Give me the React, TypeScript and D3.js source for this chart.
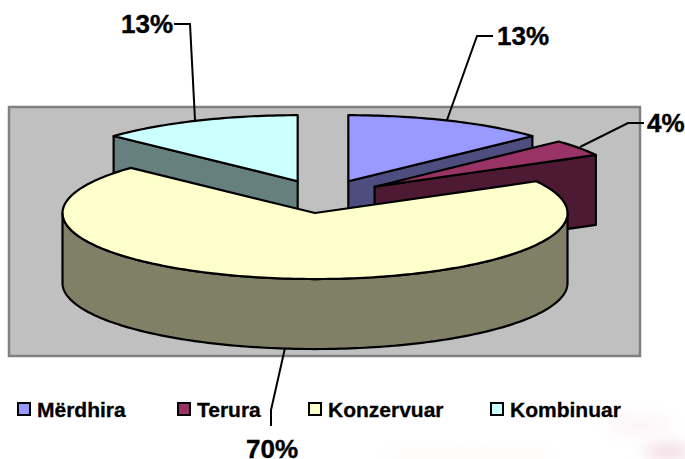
import React from "react";
import * as d3 from "d3";

const categories = ["Mërdhira", "Terura", "Konzervuar", "Kombinuar"];
const values = [13, 4, 70, 13];
const percentLabels = ["13%", "4%", "70%", "13%"];
const topColors = ["#9999FF", "#993366", "#FFFFCC", "#CCFFFF"];
const sideColors = ["#4D4D80", "#4D1933", "#808066", "#668080"];
const legendX = [17, 177, 308, 490];
const labelPos: [number, number][] = [[497, 45], [647, 132], [246, 458], [121, 33]];
const leaders: [number, number][][] = [
  [[447, 120], [477, 36], [493, 36]],
  [[580, 147], [628, 123], [644, 123]],
  [[285, 348], [271, 410], [271, 426]],
  [[195, 120], [190, 24], [174, 24]],
];

const W = 685, H = 459;
const cx = 323, cy = 196.5, rx = 252.5, ry = 66, depth = 70, explode = 0.2525;
const drawOrder = [0, 3, 1, 2];
const FONT = "'Liberation Sans', Arial, sans-serif";

const pie = d3.pie<number>().sort(null).value((d) => d);
const arcs = pie(values);
const line = d3.line<[number, number]>();

function pt(s: d3.PieArcDatum<number>, a: number, r: number, dz = 0): [number, number] {
  const m = (s.startAngle + s.endAngle) / 2;
  return [
    cx + rx * (explode * Math.sin(m) + r * Math.sin(a)),
    cy - ry * (explode * Math.cos(m) + r * Math.cos(a)) + dz,
  ];
}
function rim(s: d3.PieArcDatum<number>, a0: number, a1: number, dz = 0) {
  const n = Math.max(2, Math.ceil((a1 - a0) / 0.02));
  return d3.range(n + 1).map((i) => pt(s, a0 + ((a1 - a0) * i) / n, 1, dz));
}

function Slice({ i }: { i: number }) {
  const s = arcs[i];
  const apex = pt(s, 0, 0);
  const apexLow = pt(s, 0, 0, depth);
  const lo = Math.max(s.startAngle, Math.PI / 2);
  const hi = Math.min(s.endAngle, (3 * Math.PI) / 2);
  const stroke = { stroke: "#000", strokeWidth: 2.2, strokeLinejoin: "round" as const };
  const radial = (a: number) => {
    const e = pt(s, a, 1), eLow = pt(s, a, 1, depth);
    return <path d={line([apex, e, eLow, apexLow])! + "Z"} fill={sideColors[i]} {...stroke} />;
  };
  return (
    <g>
      {s.endAngle < Math.PI && radial(s.endAngle)}
      {s.startAngle > Math.PI && radial(s.startAngle)}
      {hi > lo && (
        <path
          d={line([...rim(s, lo, hi), ...rim(s, lo, hi, depth).reverse()])! + "Z"}
          fill={sideColors[i]}
          {...stroke}
        />
      )}
      <path d={line([apex, ...rim(s, s.startAngle, s.endAngle)])! + "Z"} fill={topColors[i]} {...stroke} />
    </g>
  );
}

export default function App() {
  return (
    <svg
      width={W}
      height={H}
      viewBox={`0 0 ${W} ${H}`}
      style={{ position: "absolute", left: 0, top: 0, display: "block", background: "#fff" }}
    >
      <defs>
        <filter id="soft" x="-30%" y="-100%" width="160%" height="300%">
          <feGaussianBlur stdDeviation="8" />
        </filter>
      </defs>
      <g filter="url(#soft)">
        <ellipse cx={668} cy={452} rx={24} ry={7} fill="#f0d4de" />
        <ellipse cx={640} cy={425} rx={35} ry={10} fill="#fcf4f6" />
        <ellipse cx={470} cy={456} rx={90} ry={4} fill="#fdf6f2" />
      </g>
      <rect x={9} y={107} width={631} height={249} fill="#C0C0C0" stroke="#808080" strokeWidth={2.5} />
      {drawOrder.map((i) => <Slice key={i} i={i} />)}
      {leaders.map((l, i) => (
        <path key={i} d={line(l)!} fill="none" stroke="#000" strokeWidth={2} />
      ))}
      {percentLabels.map((t, i) => (
        <text key={i} x={labelPos[i][0]} y={labelPos[i][1]} fontFamily={FONT} fontWeight="bold" fontSize={26} fill="#000" stroke="#000" strokeWidth={0.4}>
          {t}
        </text>
      ))}
      {categories.map((c, i) => (
        <g key={c}>
          <rect x={legendX[i] + 1} y={403} width={12} height={12} fill={topColors[i]} stroke="#000" strokeWidth={2} />
          <text x={legendX[i] + 20} y={417} fontFamily={FONT} fontWeight="bold" fontSize={21} fill="#000" stroke="#000" strokeWidth={0.3}>
            {c}
          </text>
        </g>
      ))}
    </svg>
  );
}
